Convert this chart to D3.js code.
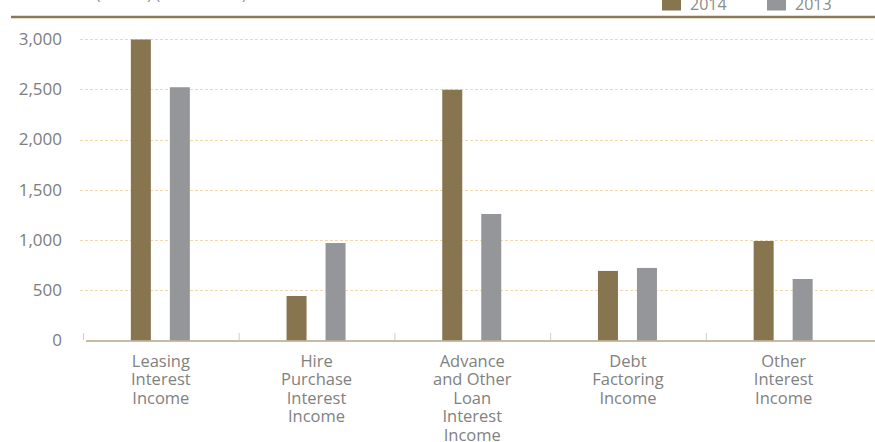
<!DOCTYPE html>
<html>
<head>
<meta charset="utf-8">
<script src="https://cdn.jsdelivr.net/npm/d3@7"></script>
<style>
  html, body { margin: 0; padding: 0; background: #fff; }
  svg { display: block; font-family: "Open Sans", "Noto Sans", sans-serif; }
</style>
</head>
<body>
<svg id="chart" width="875" height="442"></svg>
<script>
// Interest income by category, Rs. million
const categories = [
  ["Leasing", "Interest", "Income"],
  ["Hire", "Purchase", "Interest", "Income"],
  ["Advance", "and Other", "Loan", "Interest", "Income"],
  ["Debt", "Factoring", "Income"],
  ["Other", "Interest", "Income"]
];
const seriesNames = ["2014", "2013"];
const values2014 = [2995, 443, 2495, 692, 990];
const values2013 = [2520, 970, 1259, 722, 612];
const yTicks = [0, 500, 1000, 1500, 2000, 2500, 3000];

const colors = { "2014": "#86754e", "2013": "#959699" };

const svg = d3.select("#chart");
const plotLeft = 83, plotRight = 861.5, plotTop = 39, plotBottom = 340.5;

const x = d3.scaleBand().domain(d3.range(categories.length)).range([plotLeft, plotRight]);
const y = d3.scaleLinear().domain([0, 3000]).range([plotBottom, plotTop]);

// heading, mostly outside the visible area
svg.append("text")
  .attr("x", 96).attr("y", -1)
  .attr("font-size", 15).attr("fill", "#888")
  .text("(Rs. Mn)  (2014 / 2013)");

// top rule
svg.append("line")
  .attr("x1", 11).attr("x2", 875).attr("y1", 17).attr("y2", 17)
  .attr("stroke", "#8a7b55").attr("stroke-width", 2.5);

// legend
const legend = svg.append("g");
const legendX = [662, 767];
seriesNames.forEach((name, i) => {
  legend.append("rect")
    .attr("x", legendX[i]).attr("y", -1).attr("width", 19).attr("height", 11.5)
    .attr("fill", colors[name]);
  legend.append("text")
    .attr("x", legendX[i] + 28).attr("y", 9.5)
    .attr("font-size", 16).attr("fill", "#8a8a8a")
    .text(name);
});

// horizontal gridlines
svg.append("g")
  .selectAll("line")
  .data(yTicks.filter(d => d > 0))
  .join("line")
  .attr("x1", 80).attr("x2", 875)
  .attr("y1", d => Math.round(y(d)) + 0.5).attr("y2", d => Math.round(y(d)) + 0.5)
  .attr("stroke", "#f1d9ad").attr("stroke-width", 1.2)
  .attr("stroke-dasharray", "3,2");

// y axis labels
const yAxis = d3.axisLeft(y).tickValues(yTicks).tickSize(0).tickPadding(0)
  .tickFormat(d3.format(","));
const yg = svg.append("g").attr("transform", "translate(62,0)").call(yAxis);
yg.select(".domain").remove();
yg.selectAll("text")
  .attr("font-size", 17).attr("fill", "#7d7d7d")
  .attr("font-family", "'Open Sans', 'Noto Sans', sans-serif");

// bars
const offsets = { "2014": -30, "2013": 9 };
const barW = 20;
seriesNames.forEach(name => {
  const vals = name === "2014" ? values2014 : values2013;
  svg.append("g")
    .selectAll("rect")
    .data(vals)
    .join("rect")
    .attr("x", (d, i) => x(i) + x.bandwidth() / 2 + offsets[name])
    .attr("y", d => y(d))
    .attr("width", barW)
    .attr("height", d => y(0) - y(d))
    .attr("fill", colors[name]);
});

// baseline
svg.append("line")
  .attr("x1", 86).attr("x2", 875).attr("y1", plotBottom + 0.5).attr("y2", plotBottom + 0.5)
  .attr("stroke", "#b3a684").attr("stroke-width", 1.5);

// category separator ticks
svg.append("g")
  .selectAll("line")
  .data(d3.range(categories.length))
  .join("line")
  .attr("x1", d => x(d) + 0.5).attr("x2", d => x(d) + 0.5)
  .attr("y1", 333).attr("y2", 340)
  .attr("stroke", "#cfcfcf").attr("stroke-width", 1);

// category labels
const labels = svg.append("g");
categories.forEach((lines, i) => {
  const t = labels.append("text")
    .attr("text-anchor", "middle")
    .attr("font-size", 16.5).attr("fill", "#818181");
  lines.forEach((ln, j) => {
    t.append("tspan")
      .attr("x", x(i) + x.bandwidth() / 2)
      .attr("y", 367 + j * 18.4)
      .text(ln);
  });
});
</script>
</body>
</html>
